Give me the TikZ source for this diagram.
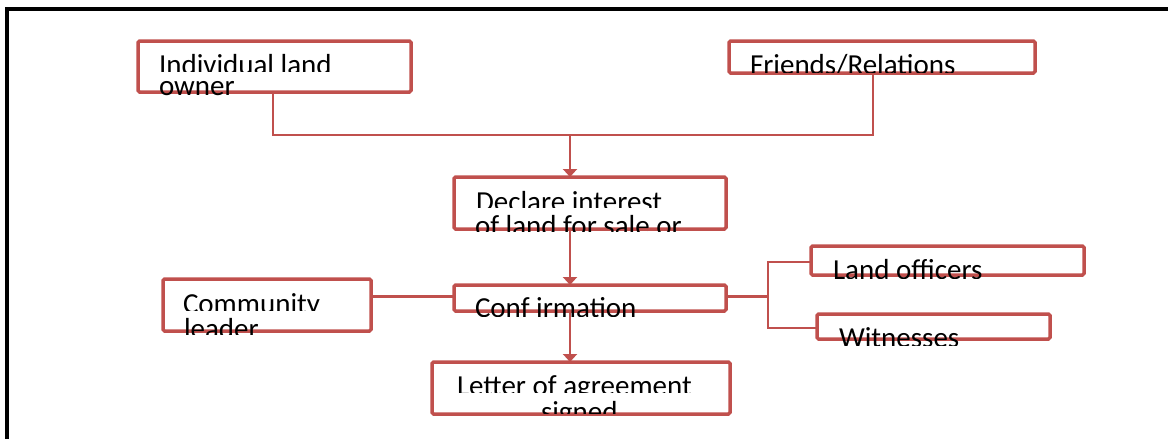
\documentclass[tikz,border=0pt]{standalone}
\usepackage{fontspec}
\setmainfont{Carlito}
\usetikzlibrary{arrows.meta}
\definecolor{accent}{HTML}{C0504D}
\newcommand\myfont{\fontsize{29}{29}\selectfont}
\newcommand\clipline[5]{%
  \begin{scope}
    \clip (0,0) rectangle (1168,#4);
    \node[txt] (#1) at (#2,#3) {#5};
  \end{scope}}
\begin{document}
\begin{tikzpicture}[x=1pt,y=-1pt,
  box/.style={draw=accent, line width=3.5pt, rounded corners=1.5pt, inner sep=0pt, outer sep=0pt},
  conn/.style={draw=accent, line width=2.5pt},
  arr/.style={conn, -{Triangle[width=14pt,length=8pt]}},
  txt/.style={inner sep=0pt, outer sep=0pt, anchor=base west, font=\myfont, text=black},
  frame/.style={draw=black, line width=3.8pt}]
\useasboundingbox (0,0) rectangle (1168,439);
\draw[frame] (7,439) -- (7,9.2) -- (1168,9.2);

% boxes
\node[box, minimum width=273pt, minimum height=51pt] (A) at (274.5,66.5) {};
\node[box, minimum width=306pt, minimum height=32pt] (B) at (882,57) {};
\node[box, minimum width=272pt, minimum height=52pt] (C) at (590,203) {};
\node[box, minimum width=272pt, minimum height=26pt] (D) at (590,298) {};
\node[box, minimum width=208pt, minimum height=52pt] (E) at (267,305) {};
\node[box, minimum width=273pt, minimum height=29pt] (F) at (947.5,260.5) {};
\node[box, minimum width=233pt, minimum height=25pt] (G) at (933.5,326.5) {};
\node[box, minimum width=298pt, minimum height=52pt] (H) at (581,388) {};

% connectors
\coordinate (j1) at (570,135);
\coordinate (j2) at (768,296.5);
\coordinate (jf) at (768,262);
\coordinate (jg) at (768,328);
\coordinate (ja) at (273,135);
\coordinate (jb) at (873,135);
\draw[conn] (A.south -| ja) -- (ja) -- (jb) -- (B.south -| jb);
\draw[arr] (j1) -- (C.north -| j1);
\draw[arr] (C.south -| j1) -- (D.north -| j1);
\draw[arr] (D.south -| j1) -- (H.north -| j1);
\draw[conn] (D.west |- j2) -- (E.east |- j2);
\draw[conn] (D.east |- j2) -- (j2);
\draw[conn] (F.west |- jf) -- (jf) -- (jg) -- (G.west |- jg);

% texts
\clipline{a1}{159}{74.2}{71.5}{Individual land}
\clipline{a2}{159}{95.4}{96.5}{owner}
\clipline{b1}{750}{74.2}{72}{Friends/Relations}
\clipline{c1}{476}{211.2}{207.3}{Declare interest}
\clipline{c2}{475}{235}{231.5}{of land for sale or}
\clipline{e1}{183}{313.2}{310.7}{Community}
\clipline{e2}{184}{338.3}{334}{leader}
\clipline{d1}{475}{317.2}{316.7}{Conf irmation}
\clipline{f1}{833}{279.2}{278.3}{Land officers}
\clipline{g1}{839}{347.5}{345}{Witnesses}
\clipline{h1}{457}{395.2}{392.7}{Letter of agreement}
\clipline{h2}{541}{421.7}{413.3}{signed}
\end{tikzpicture}
\end{document}
